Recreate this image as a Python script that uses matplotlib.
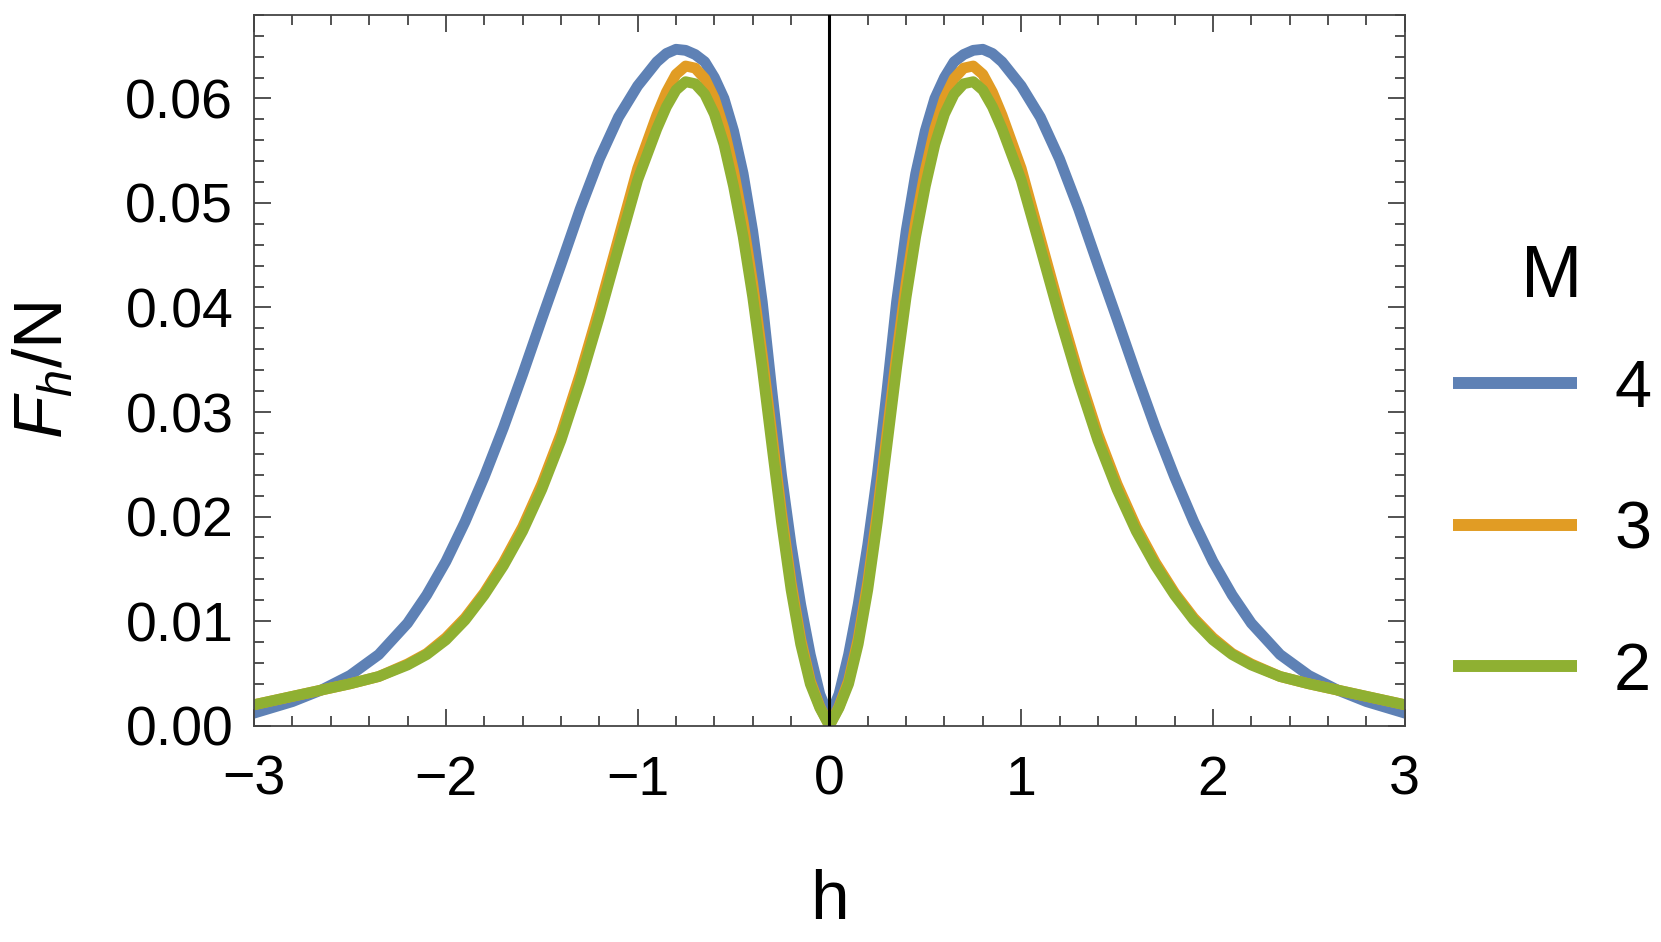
import numpy as np
import matplotlib
matplotlib.use('Agg')
import matplotlib.pyplot as plt
from matplotlib.ticker import MultipleLocator
from matplotlib.lines import Line2D

plt.rcParams['font.family'] = ['Liberation Sans', 'DejaVu Sans']
plt.rcParams['mathtext.fontset'] = 'custom'
plt.rcParams['mathtext.rm'] = 'Liberation Sans'
plt.rcParams['mathtext.it'] = 'Liberation Sans:italic'

## valores (metade h >= 0, a curva e simetrica)
h_half = [0, 0.05, 0.1, 0.15, 0.2, 0.25, 0.3, 0.35, 0.4, 0.45, 0.5, 0.55, 0.6,
          0.65, 0.7, 0.75, 0.8, 0.85, 0.9, 1.0, 1.1, 1.2, 1.3, 1.4, 1.5, 1.6,
          1.7, 1.8, 1.9, 2.0, 2.1, 2.2, 2.35, 2.5, 2.65, 2.8, 3.0]

m4_half = [0.0008, 0.0030, 0.0068, 0.0116, 0.0173, 0.0240, 0.0320, 0.0405, 0.0473,
           0.0528, 0.0569, 0.0600, 0.0620, 0.0635, 0.0642, 0.0646, 0.0647, 0.0643,
           0.0635, 0.0612, 0.0582, 0.0542, 0.0494, 0.0441, 0.0389, 0.0336, 0.0285,
           0.0238, 0.0195, 0.0157, 0.0125, 0.0098, 0.0068, 0.0048, 0.0034, 0.0023,
           0.0012]

m3_half = [0.0, 0.0018, 0.0043, 0.0083, 0.0137, 0.0204, 0.0279, 0.0354, 0.0423,
           0.0482, 0.0531, 0.0571, 0.0600, 0.0619, 0.0629, 0.0631, 0.0623, 0.0606,
           0.0584, 0.0533, 0.0466, 0.0399, 0.0336, 0.0279, 0.0231, 0.0190, 0.0156,
           0.0127, 0.0103, 0.0084, 0.0069, 0.0059, 0.0047, 0.0040, 0.0034, 0.0028,
           0.0020]

m2_half = [0.0, 0.0017, 0.0040, 0.0078, 0.0130, 0.0195, 0.0268, 0.0342, 0.0410,
           0.0468, 0.0516, 0.0556, 0.0585, 0.0604, 0.0614, 0.0616, 0.0608, 0.0592,
           0.0571, 0.0522, 0.0457, 0.0391, 0.0329, 0.0273, 0.0226, 0.0186, 0.0153,
           0.0125, 0.0101, 0.0082, 0.0068, 0.0058, 0.0047, 0.0040, 0.0034, 0.0028,
           0.0020]

labels = ['4', '3', '2']
cores = ['#5E81B5', '#E19C24', '#8FB032']


def espelha(v, sinal=1):
    v = np.array(v, dtype=float)
    return np.concatenate([sinal * v[::-1], v[1:]])


h = espelha(h_half, -1)
series = [espelha(m4_half), espelha(m3_half), espelha(m2_half)]

W, H = 1661, 942
fig = plt.figure(figsize=(W / 100, H / 100), dpi=100)
ax = fig.add_axes([0.153, 0.2297, 0.6927, 0.7546])

for y, c, lab in zip(series, cores, labels):
    ax.plot(h, y, color=c, lw=7.8, solid_joinstyle='round', label=lab)

ax.axvline(0, color='black', lw=2.2, zorder=5)

ax.set_xlim(-3, 3)
ax.set_ylim(0, 0.068)
ax.xaxis.set_minor_locator(MultipleLocator(0.2))
ax.yaxis.set_minor_locator(MultipleLocator(0.002))
ax.set_yticks(np.arange(0, 0.061, 0.01))
ax.set_yticklabels(['0.00', '0.01', '0.02', '0.03', '0.04', '0.05', '0.06'])
ax.set_xticks([-3, -2, -1, 0, 1, 2, 3])
ax.set_xticklabels(['\u22123', '\u22122', '\u22121', '0', '1', '2', '3'])

ax.tick_params(which='both', direction='in', top=True, right=True,
               color='#444444', width=1.3, labelsize=40)
ax.tick_params(which='major', length=12)
ax.tick_params(which='minor', length=7)
ax.tick_params(axis='x', pad=21)
ax.tick_params(axis='y', pad=15)
for s in ax.spines.values():
    s.set_color('#444444')
    s.set_linewidth(1.3)

ax.set_xlabel('h', fontsize=50)
ax.set_ylabel(r'$F_h$/N', fontsize=50)
ax.xaxis.set_label_coords(0.5, -0.202)
ax.yaxis.set_label_coords(-0.155, 0.5)

## legenda desenhada a mao (posicoes em pixels da figura)
fig.text(1551.5 / W, 1 - 297 / H, 'M', ha='center', va='baseline', fontsize=53)
linha_y = [383, 525, 666]
for yy, c, lab in zip(linha_y, cores, labels):
    fig.add_artist(Line2D([1453 / W, 1577 / W], [1 - yy / H, 1 - yy / H],
                          color=c, lw=8.6, solid_capstyle='butt',
                          transform=fig.transFigure))
    fig.text(1614 / W, 1 - (yy + 23.5) / H, lab, ha='left', va='baseline',
             fontsize=48)

fig.savefig('out.png', dpi=100)
